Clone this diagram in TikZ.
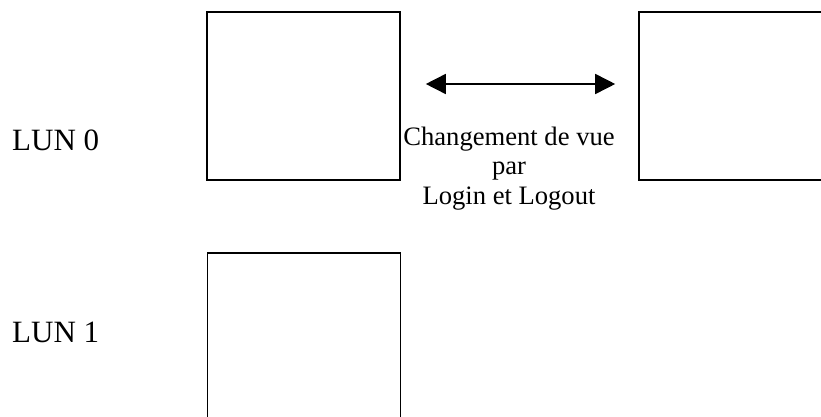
\documentclass[tikz,border=0pt]{standalone}
\usepackage{fontspec}
\setmainfont{Liberation Serif}
\usetikzlibrary{arrows.meta}
\begin{document}
\begin{tikzpicture}[x=1pt,y=-1pt,
  box/.style={draw=black, line width=1.6pt, fill=white, minimum width=193pt, minimum height=168pt, inner sep=0pt},
  lun/.style={font=\fontsize{31}{35}\selectfont, inner sep=0pt},
  lbl/.style={font=\fontsize{26.6}{29.5}\selectfont, inner sep=0pt, align=center},
  dblarrow/.style={line width=1.6pt, {Triangle[length=20pt,width=20pt]}-{Triangle[length=20pt,width=20pt]}}]
\clip (0,0) rectangle (821,417);
\fill[white] (0,0) rectangle (821,417);
\node[box] (b1) at (303.5,96) {};
\node[box] (b2) at (735.5,96) {};
\node[box] (b3) at (304,337) {};
\node[lun, anchor=base west] (lun0) at (12,150) {LUN 0};
\node[lun, anchor=base west] (lun1) at (12,342) {LUN 1};
\draw[dblarrow] ([xshift=25pt,yshift=12pt]b1.east) -- ([xshift=-23pt,yshift=12pt]b2.west);
\node[lbl] (txt) at (509,168.5) {Changement de vue\\par\\Login et Logout};
\end{tikzpicture}
\end{document}
